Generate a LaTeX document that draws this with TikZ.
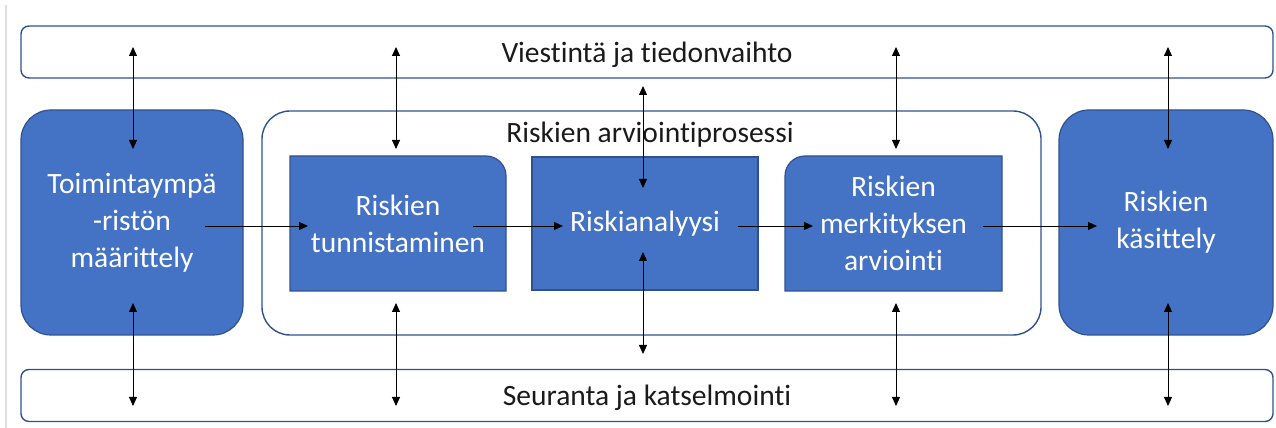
\documentclass[tikz,border=0pt]{standalone}
\usepackage{fontspec}
\setmainfont{Carlito}[Ligatures={NoCommon}]
\usetikzlibrary{arrows.meta}
\definecolor{boxblue}{HTML}{4472C4}
\definecolor{edgeblue}{HTML}{2F528F}
\definecolor{txtdark}{HTML}{1A1A1A}
\tikzset{
  lbl/.style={font=\fontsize{29.5pt}{37pt}\selectfont, inner sep=0pt, outer sep=0pt},
  bar/.style={lbl, draw=edgeblue, line width=1.4pt, rounded corners=8pt, fill=white,
    minimum width=1252pt, minimum height=52pt, text=txtdark, text depth=0pt},
  bigbox/.style={lbl, draw=edgeblue, line width=1.2pt, fill=boxblue, rounded corners=30pt,
    text=white, align=center},
  container/.style={draw=edgeblue, line width=1.4pt, fill=white, rounded corners=28pt,
    inner sep=0pt, outer sep=0pt},
  frame/.style={inner sep=0pt, outer sep=0pt},
  blueshape/.style={draw=edgeblue, line width=1.2pt, fill=boxblue},
  whitetext/.style={lbl, text=white, align=center},
  darktext/.style={lbl, text=txtdark},
  tipshape/.tip={Triangle[length=9pt,width=8pt]},
  link/.style={draw=black, line width=0.9pt, tipshape-tipshape},
  flow/.style={draw=black, line width=0.9pt, -tipshape}
}
\begin{document}
\begin{tikzpicture}[x=1pt,y=1pt]
\useasboundingbox (0,0) rectangle (1276,428);
\fill[white] (0,0) rectangle (1276,428);
% faint page edge
\coordinate (edgetop) at (6,423);
\coordinate (edgebot) at (6,0);
\draw[gray!25, line width=1.5pt] (edgetop) -- (edgebot);

% bars
\node[bar] (comm) at (647,376) {Viestintä ja tiedonvaihto};
\node[bar] (monit) at (647,32.5) {Seuranta ja katselmointi};

% outer boxes
\node[bigbox, minimum width=222pt, minimum height=225pt] (ctx) at (132,205.5)
  {Toimintaympä\\-ristön\\määrittely};
\node[bigbox, minimum width=214pt, minimum height=225pt] (treat) at (1166,205.5)
  {Riskien\\käsittely};

% container
\node[container, minimum width=779pt, minimum height=224pt] (proc) at (651.5,205) {};
\node[darktext, anchor=base] (proclabel) at (650,285) {Riskien arviointiprosessi};

% identification (top-right rounded)
\node[frame, minimum width=216pt, minimum height=135pt] (ident) at (398,204.5) {};
\draw[blueshape] (ident.south west) -- (ident.north west)
  -- ([xshift=-20pt]ident.north east) arc[start angle=90, end angle=0, radius=20pt]
  -- (ident.south east) -- cycle;
\node[whitetext] (identlabel) at (ident.center) {Riskien\\tunnistaminen};

% analysis
\node[blueshape, frame, minimum width=226pt, minimum height=133pt, whitetext] (anal) at (645,204.5) {Riskianalyysi};

% evaluation (top-left rounded)
\node[frame, minimum width=217pt, minimum height=135pt] (eval) at (893.5,204.5) {};
\draw[blueshape] (eval.south east) -- (eval.north east)
  -- ([xshift=20pt]eval.north west) arc[start angle=90, end angle=180, radius=20pt]
  -- (eval.south west) -- cycle;
\node[whitetext] (evallabel) at (eval.center) {Riskien\\merkityksen\\arviointi};

% horizontal flow arrows
\coordinate (f1a) at (205,202); \coordinate (f1b) at (308,202);
\coordinate (f2a) at (473,202); \coordinate (f2b) at (563,202);
\coordinate (f3a) at (738,202); \coordinate (f3b) at (813,202);
\coordinate (f4a) at (983,202); \coordinate (f4b) at (1097,202);
\draw[flow] (f1a) -- (f1b);
\draw[flow] (f2a) -- (f2b);
\draw[flow] (f3a) -- (f3b);
\draw[flow] (f4a) -- (f4b);

% vertical two-way arrows
\foreach \xx/\nm in {133/a,396/b,896/d,1168/e}{
  \coordinate (t\nm1) at (\xx,381); \coordinate (t\nm2) at (\xx,279);
  \coordinate (b\nm1) at (\xx,125); \coordinate (b\nm2) at (\xx,22);
  \draw[link] (t\nm1) -- (t\nm2);
  \draw[link] (b\nm1) -- (b\nm2);
}
\coordinate (tc1) at (643,342); \coordinate (tc2) at (643,240);
\coordinate (bc1) at (643,176); \coordinate (bc2) at (643,74);
\draw[link] (tc1) -- (tc2);
\draw[link] (bc1) -- (bc2);
\end{tikzpicture}
\end{document}
